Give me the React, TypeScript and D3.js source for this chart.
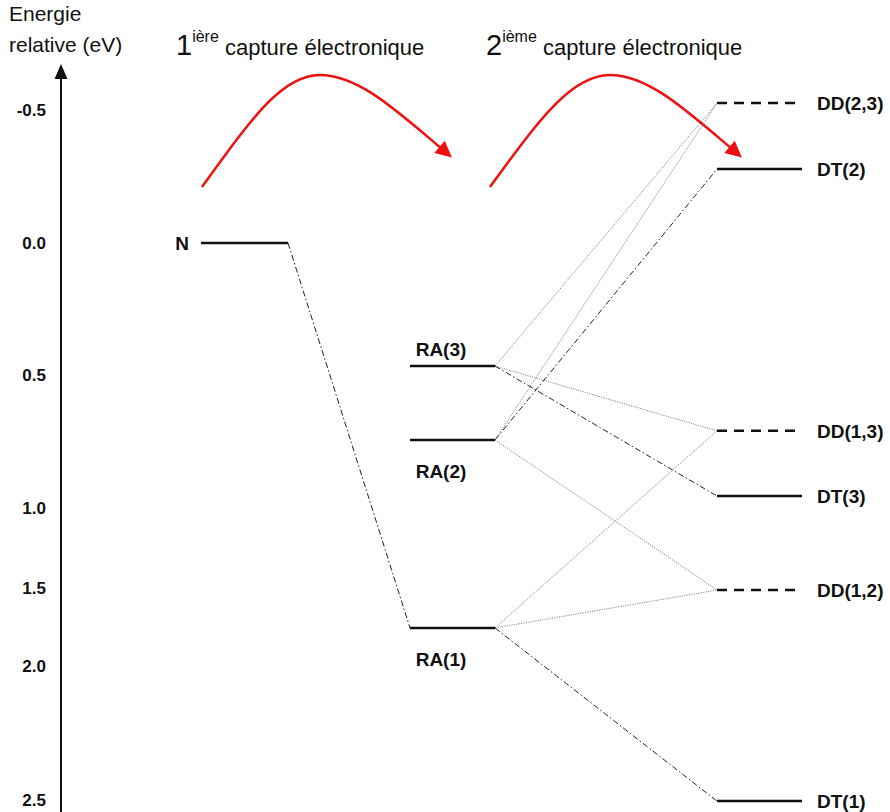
import React from "react";
import * as d3 from "d3";

// ---------- data ----------
const tickValues = [-0.5, 0.0, 0.5, 1.0, 1.5, 2.0, 2.5];
const tickLabels = ["-0.5", "0.0", "0.5", "1.0", "1.5", "2.0", "2.5"];

const levelNames = ["N", "RA(3)", "RA(2)", "RA(1)", "DD(2,3)", "DT(2)", "DD(1,3)", "DT(3)", "DD(1,2)", "DT(1)"];
const levelEnergies = [0.0, 0.466, 0.744, 1.756, -0.526, -0.278, 0.71, 0.955, 1.513, 2.504];
const levelColumns = [0, 1, 1, 1, 2, 2, 2, 2, 2, 2];
const levelKinds = ["T", "T", "T", "T", "D", "T", "D", "T", "D", "T"]; // T = solid, D = dashed

const linkSources = ["N", "RA(3)", "RA(3)", "RA(3)", "RA(2)", "RA(2)", "RA(2)", "RA(1)", "RA(1)", "RA(1)"];
const linkTargets = ["RA(1)", "DD(2,3)", "DD(1,3)", "DT(3)", "DD(2,3)", "DT(2)", "DD(1,2)", "DD(1,3)", "DD(1,2)", "DT(1)"];
const linkKinds = ["dashdot", "dot", "dot", "dashdot", "dot", "dashdot", "dot", "dot", "dot", "dashdot"];

const captureNumbers = ["1", "2"];
const captureSups = ["ière", "ième"];
const captureText = " capture électronique";

// ---------- layout ----------
const W = 890;
const H = 812;
const tickPixels = [110, 243, 375, 508, 588, 666, 800];
const y = d3.scaleLinear().domain(tickValues).range(tickPixels);
// column extents [x1, x2]
const columnX: [number, number][] = [
  [201, 288],
  [410, 495],
  [717, 802],
];
const labelFont = "'Liberation Sans', Arial, Helvetica, sans-serif";

export default function App() {
  const levelIndex = new Map(levelNames.map((n, i) => [n, i]));
  const lvl = (name: string) => {
    const i = levelIndex.get(name)!;
    const [x1, x2] = columnX[levelColumns[i]];
    return { x1, x2, y: y(levelEnergies[i]), kind: levelKinds[i], name, col: levelColumns[i] };
  };
  const levels = levelNames.map(lvl);

  const arrowPaths = [
    "M202,187 C252,118 282,75 320,75 C358,75 396,110 442,149",
    "M490,187 C540,118 572,75 610,75 C648,75 686,110 732,149",
  ];
  const captureX = [176, 486];

  return (
    <svg
      width={W}
      height={H}
      viewBox={`0 0 ${W} ${H}`}
      style={{ position: "absolute", left: 0, top: 0, background: "#fff", display: "block" }}
      fontFamily={labelFont}
    >
      <defs>
        <marker id="redHead" viewBox="0 0 10 10" refX="2" refY="5" markerWidth="7" markerHeight="6.5" orient="auto" markerUnits="strokeWidth">
          <path d="M0,0 L10,5 L0,10 Z" fill="#ee1111" />
        </marker>
      </defs>
      <rect x={0} y={0} width={W} height={H} fill="#fff" />

      {/* axis title */}
      <text x={9} y={21} fontSize={21} fill="#111">Energie</text>
      <text x={9} y={52} fontSize={21} fill="#111">relative (eV)</text>

      {/* axis */}
      <line x1={61} x2={61} y1={H} y2={78} stroke="#111" strokeWidth={2} />
      <path d="M61,64 L54.5,79 L67.5,79 Z" fill="#111" />

      {/* tick labels */}
      {tickValues.map((v, i) => (
        <text key={i} x={46} y={y(v)} dy="0.35em" textAnchor="end" fontSize={17} fontWeight="bold" fill="#111">
          {tickLabels[i]}
        </text>
      ))}

      {/* capture titles */}
      {captureNumbers.map((n, i) => (
        <text key={i} x={captureX[i]} y={55} fill="#111">
          <tspan fontSize={29}>{n}</tspan>
          <tspan fontSize={16} dy={-13}>{captureSups[i]}</tspan>
          <tspan fontSize={22} dy={13}>{captureText}</tspan>
        </text>
      ))}

      {/* red arrows */}
      {arrowPaths.map((d, i) => (
        <path key={i} d={d} fill="none" stroke="#ee1111" strokeWidth={2.5} markerEnd="url(#redHead)" />
      ))}

      {/* connections */}
      {linkSources.map((s, i) => {
        const a = lvl(s);
        const b = lvl(linkTargets[i]);
        const dot = linkKinds[i] === "dot";
        return (
          <line
            key={i}
            x1={a.x2}
            y1={a.y}
            x2={b.x1}
            y2={b.y}
            stroke={dot ? "#777" : "#222"}
            strokeWidth={dot ? 0.9 : 1}
            strokeDasharray={dot ? "1.2,1.2" : "6,2.5,1.5,2.5"}
          />
        );
      })}

      {/* levels */}
      {levels.map((l, i) => (
        <line
          key={i}
          x1={l.x1}
          x2={l.x2}
          y1={l.y}
          y2={l.y}
          stroke="#111"
          strokeWidth={2.5}
          strokeDasharray={l.kind === "D" ? "10,7" : undefined}
        />
      ))}

      {/* level labels */}
      {levels.map((l, i) => {
        let x = 0, yy = l.y, anchor: "start" | "middle" | "end" = "start";
        if (l.col === 0) {
          x = l.x1 - 12; anchor = "end";
        } else if (l.col === 2) {
          x = l.x2 + 15;
        } else {
          x = l.x1 + 31; anchor = "middle";
          if (l.name === "RA(3)") { yy = l.y - 17; } else { yy = l.y + 31; }
        }
        return (
          <text key={i} x={x} y={yy} dy="0.35em" textAnchor={anchor} fontSize={19} fontWeight="bold" fill="#111">
            {l.name}
          </text>
        );
      })}
    </svg>
  );
}
